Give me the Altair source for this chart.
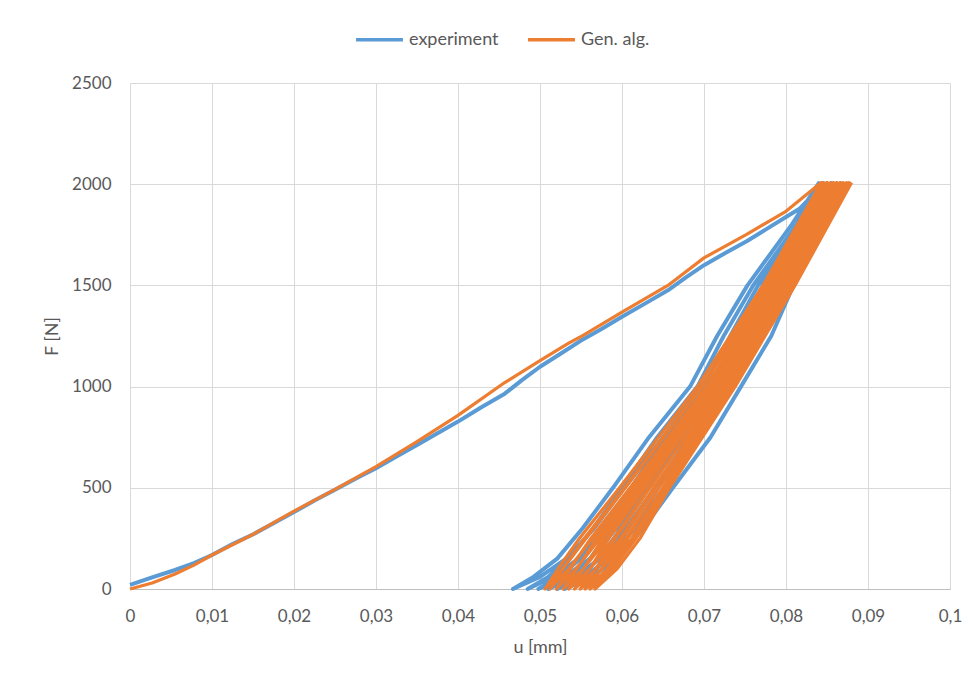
import altair as alt
import pandas as pd

SERIES = ["experiment", "Gen. alg."]
COLORS = ["#5B9BD5", "#ED7D31"]

# ---------------- experiment ----------------
EXP_LOAD_U = [0.0, 0.0027, 0.0055, 0.0078, 0.0100, 0.0125, 0.0151, 0.0175, 0.0200, 0.0225,
              0.0250, 0.0275, 0.0300, 0.0325, 0.0350, 0.0375, 0.0400, 0.0428, 0.0457, 0.0478,
              0.0500, 0.0525, 0.0549, 0.0575, 0.0600, 0.0628, 0.0656, 0.0678, 0.0700, 0.0726,
              0.0752, 0.0776, 0.0800, 0.0817, 0.0830, 0.0840]
EXP_LOAD_F = [20, 57, 94, 128, 168, 222, 272, 325, 380, 437,
              490, 545, 597, 655, 712, 770, 827, 897, 965, 1032,
              1098, 1162, 1225, 1285, 1345, 1410, 1476, 1540, 1600, 1660,
              1718, 1778, 1838, 1880, 1935, 2005]

EXP_UNLOAD_F = [2005, 1800, 1500, 1250, 1000, 750, 500, 300, 150, 60, 0]
EXP_RELOAD_F = [0, 60, 150, 300, 500, 750, 1000, 1250, 1500, 1800, 2005]

EXP_UNLOAD_U = [
    [0.0840, 0.0807, 0.0753, 0.0716, 0.0683, 0.0633, 0.0589, 0.0552, 0.0521, 0.0492, 0.0467],
    [0.0845, 0.0813, 0.0760, 0.0724, 0.0692, 0.0643, 0.0600, 0.0565, 0.0536, 0.0510, 0.0485],
    [0.0850, 0.0818, 0.0766, 0.0732, 0.0700, 0.0653, 0.0611, 0.0577, 0.0549, 0.0524, 0.0498],
    [0.0856, 0.0823, 0.0772, 0.0740, 0.0709, 0.0663, 0.0621, 0.0588, 0.0561, 0.0537, 0.0510],
    [0.0862, 0.0829, 0.0779, 0.0748, 0.0718, 0.0673, 0.0631, 0.0599, 0.0572, 0.0548, 0.0521],
    [0.0867, 0.0834, 0.0785, 0.0756, 0.0726, 0.0682, 0.0640, 0.0608, 0.0582, 0.0558, 0.0530],
]
EXP_RELOAD_U = [
    [0.0467, 0.0500, 0.0532, 0.0566, 0.0603, 0.0650, 0.0697, 0.0737, 0.0772, 0.0815, 0.0845],
    [0.0485, 0.0516, 0.0547, 0.0580, 0.0616, 0.0663, 0.0708, 0.0748, 0.0782, 0.0822, 0.0850],
    [0.0498, 0.0530, 0.0561, 0.0593, 0.0628, 0.0676, 0.0718, 0.0758, 0.0790, 0.0828, 0.0856],
    [0.0510, 0.0543, 0.0573, 0.0605, 0.0640, 0.0688, 0.0728, 0.0768, 0.0797, 0.0834, 0.0862],
    [0.0521, 0.0554, 0.0584, 0.0616, 0.0651, 0.0697, 0.0735, 0.0773, 0.0802, 0.0840, 0.0867],
    [0.0530, 0.0563, 0.0594, 0.0626, 0.0662, 0.0708, 0.0745, 0.0782, 0.0809, 0.0846, 0.0873],
]

# ---------------- Gen. alg. ----------------
GA_LOAD_U = [0.0, 0.0027, 0.0055, 0.0078, 0.0100, 0.0151, 0.0200, 0.0250, 0.0300, 0.0350,
             0.0400, 0.0457, 0.0500, 0.0535, 0.0549, 0.0600, 0.0656, 0.0700, 0.0752, 0.0800,
             0.0843]
GA_LOAD_F = [0, 30, 74, 118, 168, 272, 385, 492, 605, 728,
             858, 1020, 1128, 1215, 1245, 1368, 1500, 1636, 1752, 1866,
             2008]

GA_UNLOAD_F = [2008, 1500, 1000, 500, 250, 100, 0]
GA_RELOAD_F = [0, 100, 250, 500, 1000, 1500, 2008]

GA_UNLOAD_U = [
    [0.0843, 0.0772, 0.0692, 0.0597, 0.0548, 0.0522, 0.0506],
    [0.0846, 0.0776, 0.0697, 0.0603, 0.0554, 0.0528, 0.0512],
    [0.0850, 0.0781, 0.0703, 0.0610, 0.0562, 0.0537, 0.0520],
    [0.0854, 0.0785, 0.0708, 0.0616, 0.0569, 0.0545, 0.0528],
    [0.0858, 0.0789, 0.0713, 0.0622, 0.0577, 0.0553, 0.0535],
    [0.0862, 0.0793, 0.0717, 0.0628, 0.0584, 0.0561, 0.0542],
    [0.0866, 0.0797, 0.0721, 0.0634, 0.0592, 0.0568, 0.0549],
    [0.0870, 0.0800, 0.0725, 0.0640, 0.0600, 0.0575, 0.0555],
    [0.0874, 0.0804, 0.0729, 0.0645, 0.0607, 0.0582, 0.0561],
    [0.0877, 0.0807, 0.0732, 0.0650, 0.0614, 0.0588, 0.0567],
]
GA_RELOAD_U = [
    [0.0506, 0.0528, 0.0556, 0.0604, 0.0698, 0.0777, 0.0846],
    [0.0512, 0.0535, 0.0564, 0.0611, 0.0705, 0.0783, 0.0850],
    [0.0520, 0.0544, 0.0573, 0.0619, 0.0712, 0.0788, 0.0854],
    [0.0528, 0.0553, 0.0582, 0.0626, 0.0718, 0.0793, 0.0858],
    [0.0535, 0.0561, 0.0590, 0.0633, 0.0723, 0.0797, 0.0862],
    [0.0542, 0.0569, 0.0598, 0.0639, 0.0727, 0.0801, 0.0866],
    [0.0549, 0.0576, 0.0605, 0.0645, 0.0731, 0.0804, 0.0870],
    [0.0555, 0.0583, 0.0612, 0.0650, 0.0734, 0.0807, 0.0874],
    [0.0561, 0.0589, 0.0617, 0.0654, 0.0736, 0.0809, 0.0877],
    [0.0567, 0.0594, 0.0622, 0.0658, 0.0738, 0.0811, 0.0880],
]

X_TICKS = [0, 0.01, 0.02, 0.03, 0.04, 0.05, 0.06, 0.07, 0.08, 0.09, 0.1]
Y_TICKS = [0, 500, 1000, 1500, 2000, 2500]


def build_path(name, load_u, load_f, unload_f, unload_u, reload_f, reload_u):
    rows = []
    for u, f in zip(load_u, load_f):
        rows.append((u, f))
    for uu, ru in zip(unload_u, reload_u):
        for u, f in zip(uu, unload_f):
            rows.append((u, f))
        for u, f in zip(ru, reload_f):
            rows.append((u, f))
    return pd.DataFrame({
        "u": [r[0] for r in rows],
        "F": [r[1] for r in rows],
        "series": name,
        "order": list(range(len(rows))),
    })


exp_df = build_path(SERIES[0], EXP_LOAD_U, EXP_LOAD_F, EXP_UNLOAD_F, EXP_UNLOAD_U,
                    EXP_RELOAD_F, EXP_RELOAD_U)
ga_df = build_path(SERIES[1], GA_LOAD_U, GA_LOAD_F, GA_UNLOAD_F, GA_UNLOAD_U,
                   GA_RELOAD_F, GA_RELOAD_U)

FONT = "Lato"
TXT = "#595959"
GRID = "#D9D9D9"

x_enc = alt.X(
    "u:Q",
    scale=alt.Scale(domain=[0, 0.1], nice=False, zero=False),
    axis=alt.Axis(
        values=X_TICKS,
        labelExpr="replace(format(datum.value, '.2~f'), '.', ',')",
        title="u [mm]",
        grid=True,
        gridColor=GRID,
        domainColor="#BFBFBF",
        ticks=False,
        tickSize=0,
        labelFlush=False,
        labelOverlap=False,
        labelPadding=19,
        titlePadding=14,
    ),
)
y_enc = alt.Y(
    "F:Q",
    scale=alt.Scale(domain=[0, 2500], nice=False),
    axis=alt.Axis(
        values=Y_TICKS,
        format="d",
        title="F [N]",
        grid=True,
        gridColor=GRID,
        domain=False,
        ticks=False,
        tickSize=0,
        labelFlush=False,
        labelPadding=19,
        titlePadding=10,
    ),
)
color_enc = alt.Color(
    "series:N",
    scale=alt.Scale(domain=SERIES, range=COLORS),
    legend=alt.Legend(
        title=None,
        orient="none",
        direction="horizontal",
        legendX=224,
        legendY=-69,
        symbolType="stroke",
        symbolSize=2200,
        symbolStrokeWidth=3.5,
        labelOffset=4,
        columnPadding=22,
        padding=0,
    ),
)

exp_line = alt.Chart(exp_df).mark_line(strokeWidth=4, strokeJoin="round").encode(
    x=x_enc, y=y_enc, color=color_enc, order="order:Q"
)
ga_line = alt.Chart(ga_df).mark_line(strokeWidth=3.2, strokeJoin="round").encode(
    x=x_enc, y=y_enc, color=color_enc, order="order:Q"
)

chart = alt.layer(exp_line, ga_line).properties(
    width=820,
    height=506,
    padding={"left": 122, "top": 75, "right": 20, "bottom": 90},
    autosize=alt.AutoSizeParams(type="none"),
).configure_view(stroke=None).configure_axis(
    labelFont=FONT,
    labelFontSize=17,
    labelColor=TXT,
    titleFont=FONT,
    titleFontSize=18,
    titleFontWeight="normal",
    titleColor=TXT,
).configure_legend(
    labelFont=FONT,
    labelFontSize=18,
    labelColor=TXT,
)

chart.save("out.html", embed_options={"renderer": "svg", "actions": False})
